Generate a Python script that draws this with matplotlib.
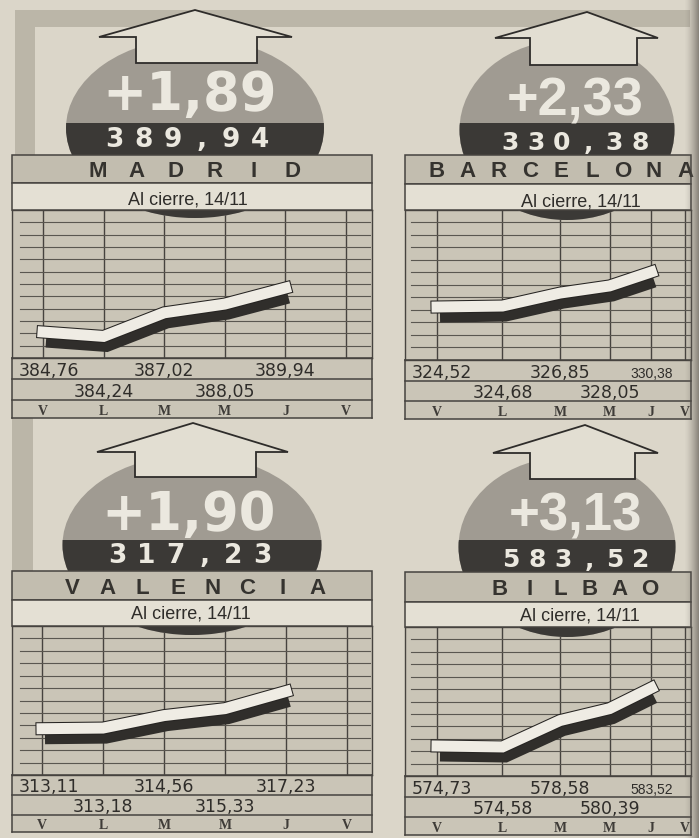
import numpy as np
import matplotlib
matplotlib.use('Agg')
import matplotlib.pyplot as plt
from matplotlib.patches import Rectangle, Ellipse, Polygon
import matplotlib.patheffects as pe
import matplotlib.transforms as mtransforms

# ---------------- data ----------------
days = ['V', 'L', 'M', 'M', 'J', 'V']
cities = ['MADRID', 'BARCELONA', 'VALENCIA', 'BILBAO']
changes = ['+1,89', '+2,33', '+1,90', '+3,13']
closes = ['389,94', '330,38', '317,23', '583,52']
subtitle = 'Al cierre, 14/11'
madrid = [384.76, 384.24, 387.02, 388.05, 389.94]
barcelona = [324.52, 324.68, 326.85, 328.05, 330.38]
valencia = [313.11, 313.18, 314.56, 315.33, 317.23]
bilbao = [574.73, 574.58, 578.58, 580.39, 583.52]
series = [madrid, barcelona, valencia, bilbao]

# ---------------- colours ----------------
PAPER = '#dbd6c9'
STRIP = '#bbb6a8'
GRIDFILL = '#cac5b7'
TITLEFILL = '#c2bdaf'
SUBFILL = '#e4e0d4'
OVAL = '#a09b92'
DARK = '#3b3936'
LINE = '#46433f'
HLINE = '#5a5750'
RIBBON = '#efece4'
LIGHT = '#ebe8df'
TEXT = '#2f2d2a'

W, H = 699, 838
fig = plt.figure(figsize=(W / 100, H / 100), dpi=100)
fig.patch.set_facecolor(PAPER)

bg = fig.add_axes([0, 0, 1, 1], zorder=0)
ov = fig.add_axes([0, 0, 1, 1], zorder=2)
for a in (bg, ov):
    a.set_xlim(0, W)
    a.set_ylim(H, 0)
    a.axis('off')

# ---------------- layout (pixels) ----------------
layout = [
    dict(box=(12, 372), apex=(195, 10), wing_y=37, wing=(99, 292), shaft=(136, 257), shaft_bot=63,
         oval=(195, 128, 258, 180), band=123, title=(155, 183), sub=(183, 210), grid=(210, 358),
         rows=(379, 400, 418), d0=43, d5=346, warp=0.0, ylim=(381.70, 399.13),
         big=(190, 110, 38, 'DejaVu Sans'), close=(187, 147, 29, 19), name=(195, 177, 39, 16),
         subc=(188, 204), jsmall=False),
    dict(box=(405, 691), apex=(587, 12), wing_y=38, wing=(495, 658), shaft=(530, 637), shaft_bot=65,
         oval=(567, 130, 215, 180), band=123, title=(155, 184), sub=(184, 210), grid=(210, 360),
         rows=(381, 401, 419), d0=437, d5=685, warp=0.4, ylim=(315.64, 340.77),
         big=(575, 115, 39, 'Liberation Sans'), close=(575, 150, 26, 18), name=(561, 177, 31, 16),
         subc=(581, 206), jsmall=True),
    dict(box=(12, 372), apex=(193, 423), wing_y=452, wing=(97, 288), shaft=(135, 256), shaft_bot=477,
         oval=(192, 545, 259, 180), band=540, title=(571, 600), sub=(600, 626), grid=(626, 775),
         rows=(795, 815, 832), d0=42, d5=347, warp=0.0, ylim=(307.99, 324.47),
         big=(189, 530, 38, 'DejaVu Sans'), close=(190, 563, 29, 19), name=(195, 594, 35, 16),
         subc=(191, 618), jsmall=False),
    dict(box=(405, 691), apex=(585, 425), wing_y=453, wing=(493, 658), shaft=(530, 635), shaft_bot=479,
         oval=(567, 547, 217, 180), band=540, title=(572, 602), sub=(602, 627), grid=(627, 776),
         rows=(797, 817, 835), d0=437, d5=685, warp=0.4, ylim=(570.18, 592.76),
         big=(575, 530, 38, 'Liberation Sans'), close=(576, 567, 26, 18), name=(575, 595, 30, 16),
         subc=(580, 620), jsmall=True),
]

# background frame strips
bg.add_patch(Rectangle((15, 10), 675, 17, facecolor=STRIP, edgecolor='none'))
bg.add_patch(Rectangle((15, 10), 20, 145, facecolor=STRIP, edgecolor='none'))
bg.add_patch(Rectangle((12, 418), 21, 153, facecolor=STRIP, edgecolor='none'))


def make_scale(a):
    if a == 0:
        return (lambda x: np.asarray(x, float)), (lambda y: np.asarray(y, float))
    k = a / 5.0

    def fwd(x):
        x = np.asarray(x, float)
        return (1 + 5 * k) * x - k * x * x

    def inv(y):
        y = np.asarray(y, float)
        disc = np.maximum((1 + 5 * k) ** 2 - 4 * k * y, 0)
        return ((1 + 5 * k) - np.sqrt(disc)) / (2 * k)
    return fwd, inv


def spaced(ax, s, cx, cy, sp, **kw):
    n = len(s)
    for i, ch in enumerate(s):
        ax.text(cx + (i - (n - 1) / 2) * sp, cy, ch, ha='center', va='baseline', **kw)


def fmt(v):
    return f'{v:.2f}'.replace('.', ',')


for p, name, chg, cls, vals in zip(layout, cities, changes, closes, series):
    bl, br = p['box']
    gt, gb = p['grid']
    r1, r2, r3 = p['rows']
    tt, tb = p['title']
    st, sb = p['sub']

    # rows background
    bg.add_patch(Rectangle((bl, gb), br - bl, r3 - gb, facecolor=GRIDFILL, edgecolor='none'))

    # ---- chart axes ----
    ax = fig.add_axes([bl / W, 1 - gb / H, (br - bl) / W, (gb - gt) / H], zorder=1)
    ax.set_facecolor(GRIDFILL)
    fwd, inv = make_scale(p['warp'])
    if p['warp'] != 0:
        ax.set_xscale('function', functions=(fwd, inv))
    span = p['d5'] - p['d0']
    gl = (bl - p['d0']) * 5 / span
    gr = (br - p['d0']) * 5 / span
    ax.set_xlim(float(inv(gl)), float(inv(gr)))
    ax.set_ylim(*p['ylim'])
    ax.set_xticks(range(len(days)))
    ax.set_yticks([])
    ax.tick_params(length=0, labelbottom=False, labelleft=False)
    ax.set_axisbelow(True)
    ax.grid(axis='x', color=LINE, lw=1.0)
    for s in ax.spines.values():
        s.set_color(LINE)
        s.set_linewidth(1.0)
    for kk in range(1, 12):
        ax.plot([0.022, 0.995], [kk / 12] * 2, transform=ax.transAxes, color=HLINE, lw=0.8, zorder=1)

    x = np.arange(len(vals))
    shadow_tr = mtransforms.offset_copy(ax.transData, fig=fig, x=3, y=-9, units='dots')
    ax.plot(x, vals, color='#302e2b', lw=9.4, solid_capstyle='butt', solid_joinstyle='miter',
            transform=shadow_tr, zorder=3)
    ax.plot(x, vals, color=RIBBON, lw=7.9, solid_capstyle='projecting', solid_joinstyle='miter',
            path_effects=[pe.Stroke(linewidth=9.4, foreground='#262422'), pe.Normal()], zorder=4)

    # labels below
    gh = gb - gt
    blend = mtransforms.blended_transform_factory(ax.transData, ax.transAxes)
    y1 = (gb - (r1 - 3)) / gh
    y2 = (gb - (r2 - 3)) / gh
    y3 = (gb - (r3 - 3)) / gh
    for i, v in enumerate(vals):
        yy = y1 if i % 2 == 0 else y2
        kw = dict(color=TEXT, fontsize=12.5, family=['DejaVu Sans'], va='baseline',
                  clip_on=False, zorder=6)
        if i == 0:
            ax.text(7 / (br - bl), yy, fmt(v), transform=ax.transAxes, ha='left', **kw)
        elif i == 4 and p['jsmall']:
            kw.update(fontsize=10, family=['Liberation Sans Narrow', 'Liberation Sans', 'DejaVu Sans'])
            ax.text(i, yy, fmt(v), transform=blend, ha='center', **kw)
        else:
            ax.text(i, yy, fmt(v), transform=blend, ha='center', **kw)
    for i, d in enumerate(days):
        ax.text(i, y3, d, transform=blend, ha='center', va='baseline', fontsize=10, fontweight='bold',
                family=['Liberation Serif', 'DejaVu Serif'], color='#3f3c38', clip_on=False, zorder=6)

    # ---- overlay: oval, arrow, title boxes ----
    ocx, ocy, ow, oh = p['oval']
    ell = Ellipse((ocx, ocy), ow, oh, facecolor=OVAL, edgecolor='none', zorder=2)
    ov.add_patch(ell)
    band = Rectangle((ocx - ow, p['band']), 2 * ow, oh, facecolor=DARK, edgecolor='none', zorder=3)
    ov.add_patch(band)
    band.set_clip_path(ell)

    ax_, ay_ = p['apex']
    wl, wr = p['wing']
    sl, sr = p['shaft']
    wy = p['wing_y']
    sbot = p['shaft_bot']
    arrow = Polygon([(ax_, ay_), (wr, wy), (sr, wy), (sr, sbot), (sl, sbot), (sl, wy), (wl, wy)],
                    closed=True, facecolor='#e2ded2', edgecolor='#2e2c2a', lw=1.3, zorder=4)
    ov.add_patch(arrow)

    ov.add_patch(Rectangle((bl, tt), br - bl, tb - tt, facecolor=TITLEFILL, edgecolor=LINE, lw=1.1, zorder=5))
    ov.add_patch(Rectangle((bl, st), br - bl, sb - st, facecolor=SUBFILL, edgecolor=LINE, lw=1.1, zorder=5))
    for yy in (gb, r1, r2, r3):
        ov.plot([bl, br], [yy, yy], color=LINE, lw=1.1, zorder=5)
    ov.plot([bl, bl], [gb, r3], color=LINE, lw=1.1, zorder=5)
    ov.plot([br, br], [gb, r3], color=LINE, lw=1.1, zorder=5)

    bx, by, bs, bf = p['big']
    ov.text(bx, by, chg, ha='center', va='baseline', fontsize=bs, fontweight='bold',
            family=[bf, 'DejaVu Sans'], color=LIGHT, zorder=6)
    cx, cy, csp, cfs = p['close']
    spaced(ov, cls, cx, cy, csp, fontsize=cfs, fontweight='bold', family=['DejaVu Sans'],
           color=LIGHT, zorder=6)
    nx, ny, nsp, nfs = p['name']
    spaced(ov, name, nx, ny, nsp, fontsize=nfs, fontweight='bold',
           family=['Liberation Sans', 'DejaVu Sans'], color='#35332f', zorder=6)
    sx, sy = p['subc']
    ov.text(sx, sy, subtitle, ha='center', va='baseline', fontsize=13,
            family=['Liberation Sans', 'DejaVu Sans'], color=TEXT, zorder=6)

# binding shadow on the right edge
grad = np.zeros((1, 40, 4))
grad[..., 0] = 0.40
grad[..., 1] = 0.38
grad[..., 2] = 0.35
grad[..., 3] = np.linspace(0, 0.8, 40) ** 1.5
ov.imshow(grad, extent=(684, 699, H, 0), aspect='auto', zorder=50, interpolation='bilinear')
ov.set_xlim(0, W)
ov.set_ylim(H, 0)

fig.savefig('out.png', dpi=100, facecolor=fig.get_facecolor())
